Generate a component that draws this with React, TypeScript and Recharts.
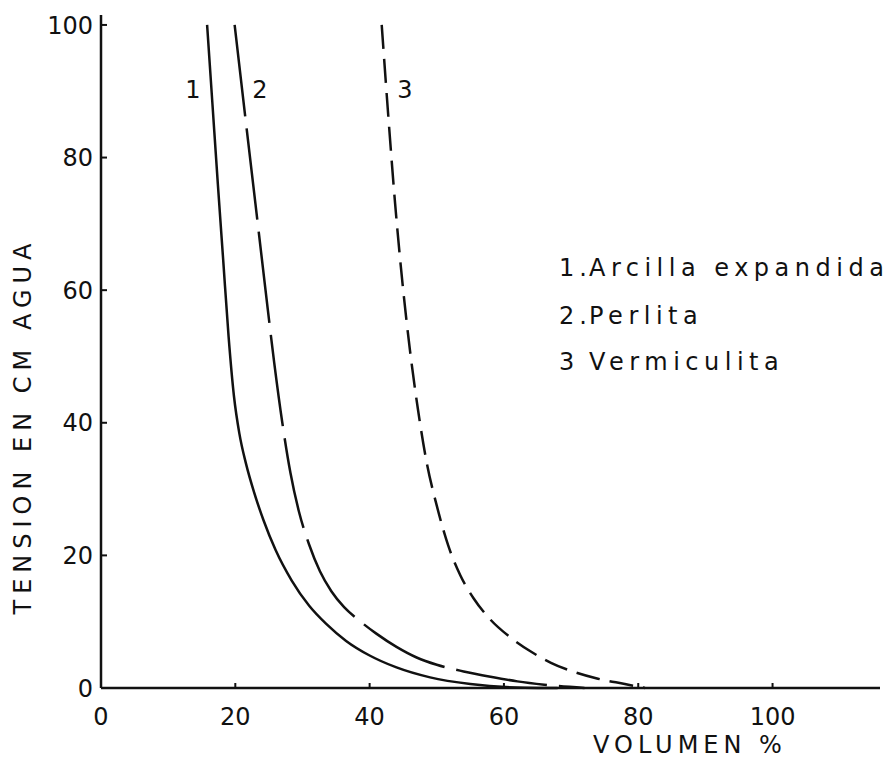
import React from "react";
import { LineChart, Line, XAxis, YAxis } from "recharts";

// curve 1: arcilla expandida (solid)
const arcillaX = [15.8, 16.6, 17.4, 18.2, 19.0, 19.8, 20.6, 21.6, 22.8, 24.2, 26, 28.4, 31, 33.5, 36.5, 40, 44, 49, 55, 63, 68];
const arcillaY = [100, 88, 76, 64.5, 53, 44, 38.4, 33.8, 29.5, 25.3, 20.8, 16.2, 12.4, 9.7, 7.1, 4.9, 3.1, 1.6, 0.6, 0.05, 0];

// curve 2: perlita (long dashes)
const perlitaX = [19.9, 21.5, 23, 24.5, 25.8, 27, 28.2, 29.5, 31, 32.6, 34.3, 36.2, 38.3, 41, 44, 47, 50, 54, 58, 62, 66, 72];
const perlitaY = [100, 86, 73, 60, 49, 40, 32.5, 26.5, 21.6, 17.6, 14.6, 12.2, 10.3, 8.2, 6.2, 4.6, 3.5, 2.5, 1.7, 1, 0.5, 0];

// curve 3: vermiculita (short dashes)
const vermiX = [41.8, 42.8, 43.8, 44.9, 46, 47.2, 48.5, 50, 51.7, 53.5, 55.5, 58, 61, 64, 67, 70.5, 74, 78, 81];
const vermiY = [100, 86, 73, 61, 51, 42, 34, 27.5, 21.5, 17, 13.5, 10.3, 7.6, 5.5, 3.8, 2.4, 1.4, 0.6, 0];

const xTicks = [0, 20, 40, 60, 80, 100];
const yTicks = [0, 20, 40, 60, 80, 100];
const legendNums = ["1.", "2.", "3"];
const legendNames = ["Arcilla expandida", "Perlita", "Vermiculita"];
const curveTags = ["1", "2", "3"];

const pts = (xs: number[], ys: number[]) => xs.map((x, i) => ({ x, y: ys[i] }));

const font = "'DejaVu Sans', sans-serif";
const ink = "#111";

const YTick = (props: any) => {
  const { x, y, payload } = props;
  return (
    <g>
      {payload.value !== 0 && <line x1={x} y1={y} x2={x + 6} y2={y} stroke={ink} strokeWidth={2} />}
      <text x={x - 8} y={y} dy="0.36em" textAnchor="end" fontFamily={font} fontSize={24} fill={ink}>
        {payload.value}
      </text>
    </g>
  );
};

const XTick = (props: any) => {
  const { x, y, payload } = props;
  return (
    <g>
      {payload.value !== 0 && <line x1={x} y1={y} x2={x} y2={y - 5} stroke={ink} strokeWidth={2} />}
      <text x={x} y={y + 37} textAnchor="middle" fontFamily={font} fontSize={24} fill={ink}>
        {payload.value}
      </text>
    </g>
  );
};

const abs = (left: number, top: number, extra: React.CSSProperties = {}): React.CSSProperties => ({
  position: "absolute",
  left,
  top,
  fontFamily: font,
  color: ink,
  whiteSpace: "nowrap",
  lineHeight: 1,
  ...extra,
});

export default function App() {
  return (
    <div style={{ position: "absolute", left: 0, top: 0, width: 888, height: 760, background: "#fff" }}>
      <LineChart width={888} height={760} margin={{ top: 15, right: 8, left: 41, bottom: 22 }}>
        <XAxis
          dataKey="x"
          type="number"
          domain={[0, 116]}
          ticks={xTicks}
          tickSize={0}
          tickMargin={0}
          tick={<XTick />}
          height={50}
          axisLine={{ stroke: ink, strokeWidth: 2.5 }}
          tickLine={false}
        />
        <YAxis
          dataKey="y"
          type="number"
          domain={[0, 101.5]}
          ticks={yTicks}
          tickSize={0}
          tickMargin={0}
          tick={<YTick />}
          width={60}
          axisLine={{ stroke: ink, strokeWidth: 2.5 }}
          tickLine={false}
        />
        <Line data={pts(arcillaX, arcillaY)} dataKey="y" type="monotone" stroke={ink} strokeWidth={2.5} dot={false} isAnimationActive={false} />
        <Line data={pts(perlitaX, perlitaY)} dataKey="y" type="monotone" stroke={ink} strokeWidth={2.5} strokeDasharray="92 12" dot={false} isAnimationActive={false} />
        <Line data={pts(vermiX, vermiY)} dataKey="y" type="monotone" stroke={ink} strokeWidth={2.5} strokeDasharray="24 10" dot={false} isAnimationActive={false} />
      </LineChart>

      {/* curve numbers */}
      <div style={abs(193, 90, { fontSize: 24, transform: "translate(-50%,-50%)" })}>{curveTags[0]}</div>
      <div style={abs(260, 90, { fontSize: 24, transform: "translate(-50%,-50%)" })}>{curveTags[1]}</div>
      <div style={abs(405, 90, { fontSize: 24, transform: "translate(-50%,-50%)" })}>{curveTags[2]}</div>

      {/* legend text */}
      {legendNames.map((t, i) => (
        <React.Fragment key={t}>
          <div style={abs(559, [268, 316, 362][i], { fontSize: 24, letterSpacing: 5, transform: "translateY(-50%)" })}>{legendNums[i]}</div>
          <div style={abs(589, [268, 316, 362][i], { fontSize: 24, letterSpacing: 5.5, transform: "translateY(-50%)" })}>{t}</div>
        </React.Fragment>
      ))}

      {/* axis titles */}
      <div style={abs(593, 745, { fontSize: 24, letterSpacing: 5, transform: "translateY(-50%)" })}>VOLUMEN %</div>
      <div style={abs(23, 426, { fontSize: 24, letterSpacing: 6, transform: "translate(-50%,-50%) rotate(-90deg)" })}>
        TENSION EN CM AGUA
      </div>
    </div>
  );
}
